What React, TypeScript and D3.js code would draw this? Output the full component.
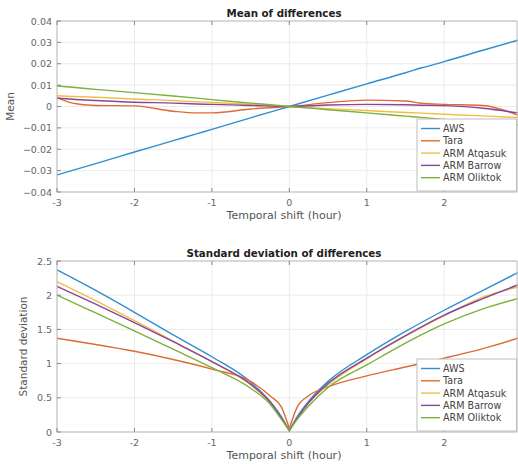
import React, { useRef, useEffect } from 'react';
import * as d3 from 'd3';

const W = 518;
const H = 464;

const SERIES = ['AWS', 'Tara', 'ARM Atqasuk', 'ARM Barrow', 'ARM Oliktok'];
const COLORS = ['#2f8fd0', '#e06a35', '#efbf4a', '#8a4598', '#7db03c'];

// mean of differences
const meanX = [-3, -2.8, -2.5, -2, -1.5, -1.2, -1, -0.5, 0, 0.5, 1, 1.5, 1.7, 2, 2.5, 2.95];
const meanAWS = [-0.032, -0.0299, -0.0267, -0.0213, -0.016, -0.0128, -0.0107, -0.0053, 0, 0.0053, 0.0106, 0.0158, 0.018, 0.021, 0.0263, 0.031];
const meanTara = [0.004, 0.0016, 0.0005, 0.0003, -0.0022, -0.003, -0.003, -0.0012, 0, 0.0018, 0.003, 0.0026, 0.0015, 0.001, 0.0005, -0.004];
const meanAtqasuk = [0.005, 0.0047, 0.0043, 0.0035, 0.0028, 0.0022, 0.0019, 0.001, 0, -0.001, -0.0019, -0.0028, -0.0031, -0.0036, -0.0044, -0.0052];
const meanBarrow = [0.004, 0.0034, 0.0028, 0.002, 0.0016, 0.0012, 0.001, 0.0005, 0, 0.0007, 0.001, 0.0008, 0.0006, 0.0004, -0.0008, -0.003];
const meanOliktok = [0.0096, 0.009, 0.008, 0.0065, 0.0049, 0.0039, 0.0032, 0.0016, 0, -0.0015, -0.003, -0.0045, -0.0051, -0.006, -0.0075, -0.0088];

// standard deviation of differences
const stdX = [-3, -2.5, -2, -1.5, -1, -0.5, -0.25, -0.1, 0, 0.1, 0.25, 0.5, 1, 1.5, 2, 2.5, 2.95];
const stdAWS = [2.37, 2.07, 1.75, 1.42, 1.1, 0.73, 0.45, 0.22, 0.02, 0.22, 0.45, 0.74, 1.13, 1.47, 1.78, 2.07, 2.33];
const stdTara = [1.37, 1.28, 1.18, 1.06, 0.92, 0.74, 0.53, 0.36, 0.05, 0.36, 0.53, 0.66, 0.82, 0.95, 1.08, 1.22, 1.37];
const stdAtqasuk = [2.2, 1.92, 1.63, 1.33, 1.03, 0.69, 0.43, 0.2, 0.02, 0.2, 0.42, 0.69, 1.07, 1.4, 1.7, 1.97, 2.12];
const stdBarrow = [2.13, 1.87, 1.6, 1.32, 1.03, 0.7, 0.44, 0.2, 0.02, 0.2, 0.43, 0.71, 1.08, 1.41, 1.71, 1.95, 2.15];
const stdOliktok = [2.0, 1.74, 1.48, 1.21, 0.94, 0.64, 0.41, 0.18, 0.02, 0.18, 0.38, 0.65, 0.98, 1.3, 1.58, 1.8, 1.95];

const xTicks = [-3, -2, -1, 0, 1, 2];
const meanTicks = [-0.04, -0.03, -0.02, -0.01, 0, 0.01, 0.02, 0.03, 0.04];
const stdTicks = [0, 0.5, 1, 1.5, 2, 2.5];

const FONT = '"DejaVu Sans", sans-serif';

function drawPanel(svg, opts) {
  const { top, bottom, left, right, xs, series, yDomain, yTicks, tickFmt, title, ylabel, ylabelX, legendY, splitAtZero } = opts;
  const x = d3.scaleLinear().domain([-3, 2.94]).range([left, right]);
  const y = d3.scaleLinear().domain(yDomain).range([bottom, top]);
  const g = svg.append('g');

  // grid
  g.selectAll('.gx').data(xTicks).join('line')
    .attr('x1', d => x(d)).attr('x2', d => x(d))
    .attr('y1', top).attr('y2', bottom)
    .attr('stroke', '#e6e6e6').attr('stroke-width', 0.8);
  g.selectAll('.gy').data(yTicks).join('line')
    .attr('x1', left).attr('x2', right)
    .attr('y1', d => y(d)).attr('y2', d => y(d))
    .attr('stroke', '#e6e6e6').attr('stroke-width', 0.8);

  // lines (std curves keep their sharp V at zero shift)
  const line = d3.line<[number, number]>().x(d => x(d[0])).y(d => y(d[1])).curve(d3.curveMonotoneX);
  series.forEach((vals, i) => {
    const pts = vals.map((v, j) => [xs[j], v] as [number, number]);
    const parts = splitAtZero ? [pts.filter(p => p[0] <= 0), pts.filter(p => p[0] >= 0)] : [pts];
    parts.forEach(p => {
      g.append('path').attr('d', line(p))
        .attr('fill', 'none').attr('stroke', COLORS[i]).attr('stroke-width', 1.4)
        .attr('stroke-linejoin', 'round');
    });
  });

  // box
  g.append('rect').attr('x', left).attr('y', top)
    .attr('width', right - left).attr('height', bottom - top)
    .attr('fill', 'none').attr('stroke', '#bdbdbd').attr('stroke-width', 1);

  // ticks
  g.selectAll('.tx').data(xTicks).join('line')
    .attr('x1', d => x(d)).attr('x2', d => x(d))
    .attr('y1', bottom).attr('y2', bottom - 4).attr('stroke', '#888');
  g.selectAll('.tx2').data(xTicks).join('line')
    .attr('x1', d => x(d)).attr('x2', d => x(d))
    .attr('y1', top).attr('y2', top + 4).attr('stroke', '#888');
  g.selectAll('.ty').data(yTicks).join('line')
    .attr('x1', left).attr('x2', left + 4)
    .attr('y1', d => y(d)).attr('y2', d => y(d)).attr('stroke', '#888');

  g.selectAll('.lx').data(xTicks).join('text')
    .attr('x', d => x(d)).attr('y', bottom + 14)
    .attr('text-anchor', 'middle').attr('font-size', 9.5).attr('font-family', FONT)
    .attr('fill', '#666').text(d => String(d));
  g.selectAll('.ly').data(yTicks).join('text')
    .attr('x', left - 5).attr('y', d => y(d) + 3.5)
    .attr('text-anchor', 'end').attr('font-size', 9.5).attr('font-family', FONT)
    .attr('fill', '#666').text(d => tickFmt(d));

  g.append('text').attr('x', (left + right) / 2 - 3).attr('y', top - 4)
    .attr('text-anchor', 'middle').attr('font-size', 10.3).attr('font-weight', 'bold')
    .attr('font-family', FONT).attr('fill', '#222').text(title);
  g.append('text').attr('x', (left + right) / 2 - 3).attr('y', bottom + 27)
    .attr('text-anchor', 'middle').attr('font-size', 11)
    .attr('font-family', FONT).attr('fill', '#555').text('Temporal shift (hour)');
  g.append('text')
    .attr('transform', `translate(${ylabelX},${(top + bottom) / 2}) rotate(-90)`)
    .attr('text-anchor', 'middle').attr('font-size', 10.5)
    .attr('font-family', FONT).attr('fill', '#555').text(ylabel);

  // legend
  const lx = 417;
  const lg = g.append('g');
  lg.append('rect').attr('x', lx).attr('y', legendY)
    .attr('width', right - lx - 0.5).attr('height', 72)
    .attr('fill', '#fff').attr('stroke', '#bdbdbd');
  SERIES.forEach((s, i) => {
    const yy = legendY + 9.5 + i * 12.3;
    lg.append('line').attr('x1', lx + 4).attr('x2', lx + 23)
      .attr('y1', yy).attr('y2', yy).attr('stroke', COLORS[i]).attr('stroke-width', 1.4);
    lg.append('text').attr('x', lx + 26).attr('y', yy + 3.5)
      .attr('font-size', 9.6).attr('font-family', FONT).attr('fill', '#444').text(s);
  });
}

export default function App() {
  const ref = useRef<SVGSVGElement>(null);
  useEffect(() => {
    const svg = d3.select(ref.current);
    svg.selectAll('*').remove();
    svg.append('rect').attr('width', W).attr('height', H).attr('fill', '#fff');
    drawPanel(svg, {
      top: 21, bottom: 192, left: 57, right: 517, xs: meanX,
      series: [meanAWS, meanTara, meanAtqasuk, meanBarrow, meanOliktok],
      yDomain: [-0.04, 0.04], yTicks: meanTicks,
      tickFmt: d => (d === 0 ? '0' : d3.format('.2f')(d)),
      title: 'Mean of differences', ylabel: 'Mean', ylabelX: 14, legendY: 119,
      splitAtZero: false,
    });
    drawPanel(svg, {
      top: 261, bottom: 432, left: 57, right: 517, xs: stdX,
      series: [stdAWS, stdTara, stdAtqasuk, stdBarrow, stdOliktok],
      yDomain: [0, 2.5], yTicks: stdTicks,
      tickFmt: d => String(d),
      title: 'Standard deviation of differences', ylabel: 'Standard deviation', ylabelX: 27, legendY: 359,
      splitAtZero: true,
    });
  }, []);
  return <svg ref={ref} width={W} height={H} style={{ position: 'absolute', left: 0, top: 0, display: 'block' }} />;
}
